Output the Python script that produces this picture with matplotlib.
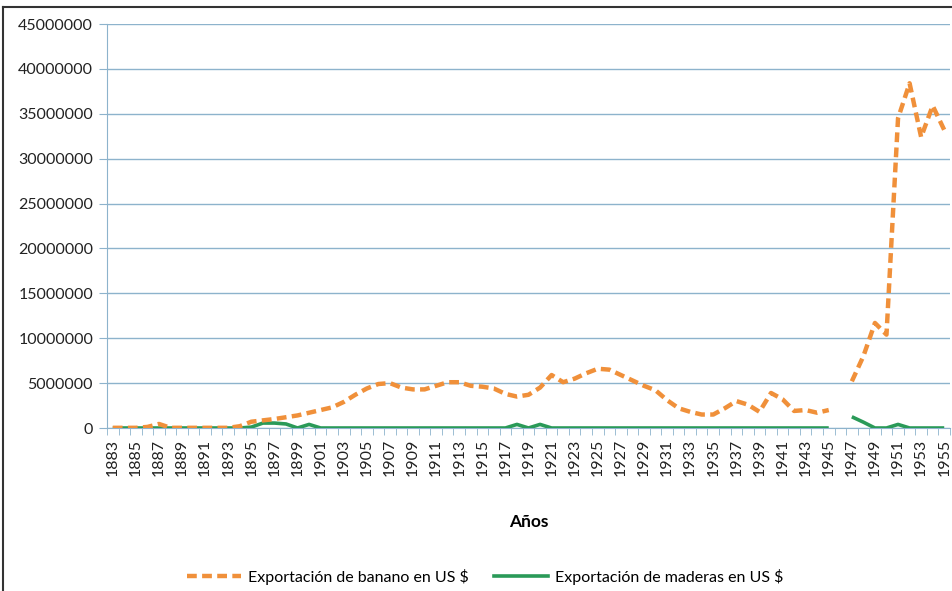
import matplotlib.pyplot as plt
import numpy as np
from matplotlib.lines import Line2D

years = np.arange(1883, 1956)

# Exportación de banano en US $ (None = sin dato)
banano = [
    20000, 20000, 20000, 120000, 450000, 20000, 20000, 20000, 20000, 20000,   # 1883-1892
    20000, 200000, 700000, 850000, 1000000, 1200000, 1400000, 1700000, 2000000, 2300000,  # 1893-1902
    2900000, 3700000, 4400000, 4900000, 5000000, 4500000, 4300000, 4300000, 4700000, 5100000,  # 1903-1912
    5100000, 4700000, 4600000, 4400000, 3800000, 3500000, 3700000, 4500000, 5900000, 5100000,  # 1913-1922
    5500000, 6100000, 6600000, 6500000, 5900000, 5300000, 4700000, 4200000, 3100000, 2200000,  # 1923-1932
    1800000, 1500000, 1500000, 2200000, 3000000, 2600000, 1800000, 3900000, 3200000, 1900000,  # 1933-1942
    2000000, 1700000, 2000000, None, 5200000, 8000000, 11700000, 10400000, 34500000, 38400000,  # 1943-1952
    32400000, 35900000, 33200000,  # 1953-1955
]

# Exportación de maderas en US $
maderas = [
    0, 0, 0, 0, 0, 0, 0, 0, 0, 0,            # 1883-1892
    0, 0, 100000, 550000, 550000, 450000, 0, 400000, 0, 0,  # 1893-1902
    0, 0, 0, 0, 0, 0, 0, 0, 0, 0,            # 1903-1912
    0, 0, 0, 0, 0, 400000, 0, 400000, 0, 0,  # 1913-1922
    0, 0, 0, 0, 0, 0, 0, 0, 0, 0,            # 1923-1932
    0, 0, 0, 0, 0, 0, 0, 0, 0, 0,            # 1933-1942
    0, 0, 0, None, 1250000, 650000, 0, 0, 400000, 0,  # 1943-1952
    0, 0, 0,                                 # 1953-1955
]

yticks = np.arange(0, 45000001, 5000000)

ban = np.array([np.nan if v is None else v for v in banano], dtype=float)
mad = np.array([np.nan if v is None else v for v in maderas], dtype=float)

plt.rcParams['font.family'] = ['Lato', 'DejaVu Sans']

fig = plt.figure(figsize=(9.53, 5.91), dpi=100)
ax = fig.add_axes([107/953, 1-428/591, 843/953, 404/591])

grid_c = '#8db3cc'
orange = '#f0903a'
green = '#2a9a58'

ax.plot(years, mad, color=green, lw=2.6, solid_capstyle='butt', zorder=3)
ax.plot(years, ban, color=orange, lw=3.2, ls=(0, (2.2, 1.2)), zorder=4)

ax.set_xlim(1882.5, 1955.5)
ax.set_ylim(0, 45000000)
ax.set_yticks(yticks)
ax.set_yticklabels([str(v) for v in yticks], fontsize=11.5, color='#222222')
ax.yaxis.grid(True, color=grid_c, lw=1)
ax.set_axisbelow(True)

ax.set_xticks(years[::2])
ax.set_xticklabels([str(y) for y in years[::2]], rotation=90, fontsize=11.5, color='#222222')
ax.set_xticks(np.arange(1882.5, 1956, 1), minor=True)
ax.tick_params(axis='x', which='major', length=0, pad=8)
ax.tick_params(axis='x', which='minor', length=5, color=grid_c, direction='out')
ax.tick_params(axis='y', length=6, color=grid_c, pad=4)

for s in ['top', 'right']:
    ax.spines[s].set_visible(False)
for s in ['left', 'bottom']:
    ax.spines[s].set_color(grid_c)

ax.set_xlabel('Años', fontsize=12.5, fontweight='bold', labelpad=27)

handles = [
    Line2D([], [], color=orange, lw=3.2, ls=(0, (2.2, 1.2))),
    Line2D([], [], color=green, lw=2.6),
]
fig.legend(handles, ['Exportación de banano en US $', 'Exportación de maderas en US $'],
           loc='center', bbox_to_anchor=(485/953, 1-577/591), ncol=2, frameon=False,
           fontsize=11.5, handlelength=3.4, columnspacing=1.6, handletextpad=0.4)

# marco exterior
fig.add_artist(Line2D([3/953, 1], [1-7/591, 1-7/591], color='#333333', lw=1.5))
fig.add_artist(Line2D([3/953, 3/953], [0, 1-7/591], color='#333333', lw=1.5))

fig.savefig('out.png', dpi=100)
